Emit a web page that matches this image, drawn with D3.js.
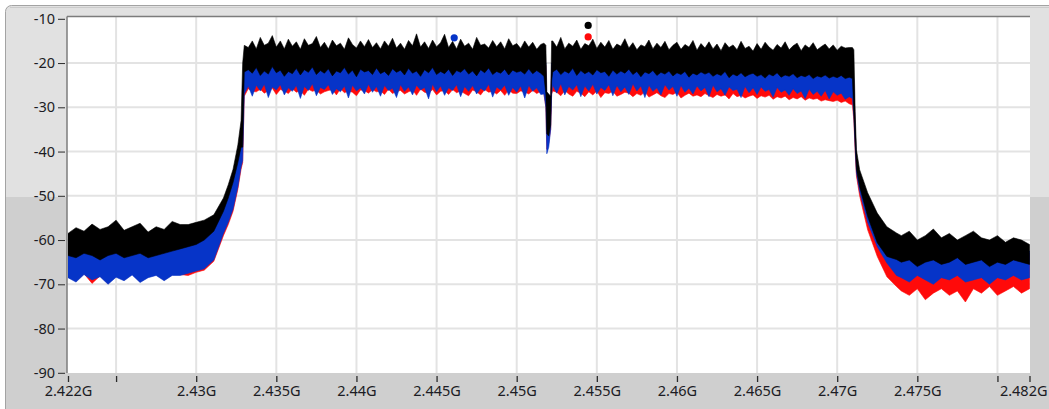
<!DOCTYPE html>
<html><head><meta charset="utf-8">
<script src="https://cdn.jsdelivr.net/npm/d3@7"></script>
<style>html,body{margin:0;padding:0;background:#fff;} svg{display:block;}</style>
</head><body><svg id="c" width="1049" height="409"></svg>
<script>
// ---------- DATA ----------
// sweep frequencies (MHz) at which the envelopes were read
const freqMHz = [
2422,2422.5,2423,2423.5,2424,2424.5,2425,2425.5,2426,2426.5,2427,2427.5,2428,2428.5,2429,
2429.5,2430,2430.5,2431.1,2431.7,2432,2432.3,2432.6,2432.8,2432.9,2433,
2433.25,2433.5,2433.75,2434,2434.25,2434.5,2434.75,2435,2435.25,2435.5,
2435.75,2436,2436.25,2436.5,2436.75,2437,2437.25,2437.5,2437.75,2438,
2438.25,2438.5,2438.75,2439,2439.25,2439.5,2439.75,2440,2440.25,2440.5,
2440.75,2441,2441.25,2441.5,2441.75,2442,2442.25,2442.5,2442.75,2443,
2443.25,2443.5,2443.75,2444,2444.25,2444.5,2444.75,2445,2445.25,2445.5,
2445.75,2446,2446.25,2446.5,2446.75,2447,2447.25,2447.5,2447.75,2448,
2448.25,2448.5,2448.75,2449,2449.25,2449.5,2449.75,2450,2450.25,2450.5,
2450.75,2451,2451.25,2451.5,
2451.7,2451.82,2451.88,2452,2452.12,2452.18,
2452.25,2452.5,2452.75,2453,2453.25,2453.5,2453.75,2454,2454.25,2454.5,
2454.75,2455,2455.25,2455.5,2455.75,2456,2456.25,2456.5,2456.75,2457,
2457.25,2457.5,2457.75,2458,2458.25,2458.5,2458.75,2459,2459.25,2459.5,
2459.75,2460,2460.25,2460.5,2460.75,2461,2461.25,2461.5,2461.75,2462,
2462.25,2462.5,2462.75,2463,2463.25,2463.5,2463.75,2464,2464.25,2464.5,
2464.75,2465,2465.25,2465.5,2465.75,2466,2466.25,2466.5,2466.75,2467,
2467.25,2467.5,2467.75,2468,2468.25,2468.5,2468.75,2469,2469.25,2469.5,
2469.75,2470,2470.25,2470.5,2470.75,
2470.95,2471.04,2471.12,2471.2,2471.4,2471.9,2472.5,2473.1,2473.7,
2474,2474.5,2475,2475.5,2476,2476.5,2477,2477.5,2478,2478.5,2479,2479.5,2480,2480.5,2481,2481.5,2482
];
// black trace: upper and lower envelope (dBm)
const blackMax = [
-58.5,-57.2,-58,-56.4,-57.6,-57,-55.5,-57.8,-57,-56.2,-58.2,-57,-57.6,-55.8,-56.5,
-56.5,-56,-55.5,-54.3,-50.5,-47.5,-44,-38.5,-33,-20,-16,
-16.5,-15,-16.8,-14.2,-16,-15.5,-13.8,-16.4,-15,-16.8,
-14.6,-16.2,-15.2,-16.9,-14.5,-16,-15.6,-14,-16.5,-15.3,
-16.8,-14.8,-16.1,-15.5,-16.9,-14.3,-15.8,-16.6,-15,-16.3,
-14.7,-16.5,-15.4,-16.8,-15,-16.2,-14.4,-16.6,-15.5,-16.9,
-14.9,-16.1,-13.4,-16.4,-15.2,-16.7,-14.8,-16.3,-15.4,-13.5,
-16.5,-15.1,-16.8,-14.6,-16.2,-15.5,-16.9,-14.2,-16,-15.7,
-16.6,-14.9,-16.3,-15.2,-16.8,-14.5,-16.1,-15.6,-16.7,-15,
-16.4,-15.3,-16.9,-15.8,
-15.5,-16,-26.5,-27,-27.5,-15,
-15,-16.4,-14.2,-16.8,-15.5,-16.2,-14.8,-16.9,-15.6,-16.1,
-14.6,-16.7,-15.3,-16.4,-14.9,-16.9,-15.7,-16.2,-14.5,-16.6,
-15.4,-17,-15.9,-16.3,-14.8,-16.8,-15.5,-16.5,-15.1,-17,
-16,-15.3,-16.9,-15.8,-16.4,-14.9,-17.1,-15.6,-16.6,-15.2,
-16.8,-15.7,-17.2,-15.4,-16.5,-15.9,-17,-15.1,-16.7,-16.2,
-17.3,-15.6,-16.9,-15.3,-16.4,-17.1,-15.8,-16.6,-15.2,-17,
-16.1,-15.5,-17.2,-15.9,-16.6,-15.4,-17,-16.3,-15.7,-16.8,
-15.9,-17.1,-16.2,-16.6,-16.5,
-16.5,-17,-31,-39.6,-44.1,-49.3,-53.9,-57,-58.4,
-59,-58,-60,-59,-57.5,-59.5,-58.5,-60,-59,-58,-59.5,-60,-59,-60.5,-59.5,-60,-61
];
const blackMin = [
-63.5,-64,-63,-63.5,-64.5,-63.5,-63,-64,-63.5,-63,-64,-63.5,-63,-62.5,-62,
-61.5,-61,-60,-58,-53.5,-50.5,-47,-42.5,-39,-39,-22,
-21.5,-22.3,-21,-22.8,-21.8,-22.5,-20.8,-22.2,-21.6,-23,
-21.9,-22.4,-21.2,-22.7,-21.5,-22.1,-20.9,-22.6,-21.7,-22.3,
-21.3,-22.9,-21.8,-22.2,-21,-22.5,-21.6,-23.1,-21.4,-22,
-21.7,-22.6,-21.1,-22.4,-21.9,-22.8,-21.3,-22.1,-21.6,-22.7,
-21.2,-22.3,-21.8,-23,-21.5,-22.2,-21,-22.6,-21.9,-22.4,
-21.4,-22.8,-21.7,-22.1,-21.3,-22.5,-21.8,-22.9,-21.5,-22.2,
-21.1,-22.6,-21.9,-22.3,-21.4,-22.7,-21.6,-22.1,-21.8,-22.5,
-21.3,-22.4,-21.7,-22.3,
-23,-27,-36,-36.5,-34,-24,
-22,-21.4,-22.6,-21.8,-22.3,-21.2,-22.8,-21.7,-22.4,-21.9,
-22.7,-21.5,-22.2,-21.9,-23,-21.6,-22.5,-21.8,-22.3,-21.4,
-22.6,-21.9,-23.1,-22,-22.4,-21.7,-22.8,-22.1,-22.5,-21.8,
-22.9,-22.2,-22.6,-21.9,-23.2,-22.3,-22.7,-22,-22.5,-22.1,
-23,-22.4,-22.8,-21.9,-23.3,-22.5,-22.9,-22.2,-23.1,-22.6,
-22.3,-23,-22.6,-23.4,-22.5,-22.9,-22.2,-23.2,-22.7,-23,
-22.4,-23.3,-22.8,-23.1,-22.6,-23.5,-22.9,-23.2,-22.7,-23.4,
-23,-23.3,-22.8,-23.5,-23.2,
-23.5,-31.5,-38,-44,-48,-54.7,-60.6,-63.7,-64.4,
-65,-64.5,-66,-65,-64.5,-65.5,-65,-64,-65.5,-65,-64.5,-66,-65,-65.5,-64.5,-65,-65.5
];
// blue trace: lower envelope (upper envelope lies under the black trace)
const blueMin = [
-68.5,-69.5,-67.8,-69,-68.3,-70,-68.4,-69.2,-67.9,-69.6,-68.5,-68,-69.2,-68,-68,
-67.5,-67,-66.5,-64.5,-58.5,-56,-53,-48,-43.5,-42,-27,
-25.2,-27.5,-25,-26.3,-24.8,-27.8,-25.4,-26.1,-24.9,-27.2,
-25.6,-26.4,-25.1,-28,-25.3,-26.2,-24.7,-27.4,-25.5,-26,
-24.9,-27.1,-25.8,-26.5,-25.2,-27.9,-25,-26.3,-25.6,-27,
-24.8,-26.6,-25.3,-27.5,-25.1,-26.2,-25.7,-27.8,-24.9,-26.4,
-25.4,-27.2,-25,-26.1,-25.5,-28.1,-24.8,-26.5,-25.2,-27.3,
-25.6,-26.2,-24.9,-27.6,-25.3,-26.4,-25.1,-27,-25.7,-26.3,
-24.8,-27.7,-25.4,-26.1,-25,-27.3,-25.5,-26.6,-25.2,-27.9,
-25.1,-26.4,-25.6,-27.1,
-27,-30,-40.5,-39,-35,-27,
-25,-26.8,-24.7,-27.2,-25.3,-26.1,-24.9,-27.6,-25.2,-26.3,
-24.8,-27,-25.5,-26.2,-24.9,-27.4,-25.1,-26.5,-25.4,-27.1,
-24.7,-26.3,-25.2,-27.8,-25,-26.4,-25.6,-27.2,-24.9,-26.1,
-25.3,-27.5,-25.1,-26.6,-25.7,-27,-25.2,-26.3,-25.5,-27.6,
-25,-26.5,-25.8,-27.3,-25.4,-26.2,-25.9,-27.8,-25.3,-26.7,
-25.6,-27.1,-25.4,-26.4,-26,-27.7,-25.5,-26.6,-26.1,-27.3,
-25.8,-26.9,-26.3,-28,-25.9,-27.1,-26.4,-27.5,-26.2,-28.1,
-26.5,-27.3,-26.8,-28.2,-27.6,
-28,-32,-39,-44.8,-49,-56,-61.5,-65.2,-68,
-68.5,-69.5,-68,-69,-70,-68.5,-69,-68,-69.5,-69,-68.5,-70,-68.5,-69,-68,-69,-68.5
];
// red trace: lower envelope
const redMin = [
-68.3,-69.3,-67.6,-69.8,-68.1,-69.8,-68.2,-69,-67.7,-69.4,-68.3,-67.8,-69,-67.8,-67.8,
-68,-67.3,-66.8,-64.8,-59,-56.5,-53.5,-48.5,-44,-42.5,-27.5,
-25.8,-26.4,-26.5,-25.9,-26.8,-26.2,-25.7,-27.1,-26,-26.3,
-26.9,-25.8,-26.6,-26.2,-27.3,-25.9,-26.4,-26.1,-27,-26.5,
-26.2,-26,-27.2,-25.8,-26.7,-26.3,-26.6,-27.4,-26.1,-26.2,
-26.8,-26,-26.5,-26.3,-27.1,-25.9,-26.9,-26.4,-26.2,-27,
-26.5,-26.1,-27.3,-25.9,-26.6,-26.8,-26,-27.2,-26.4,-26.2,
-27.1,-26,-26.7,-26.3,-26.9,-27.4,-26.1,-26.5,-27.2,-26,
-26.6,-26.4,-27,-26.2,-27.3,-26.1,-26.8,-26.9,-26.3,-26.5,
-27,-26.2,-26.9,-26.4,
-27,-30,-39.5,-38,-35,-27,
-26.3,-26.6,-27.4,-26.2,-27,-27.5,-26.4,-26.8,-27.6,-26.5,
-27.2,-26.3,-27.8,-26.7,-26.9,-26.4,-27.5,-27.1,-26.6,-26.8,
-27.6,-26.9,-27.3,-26.5,-27.7,-27.2,-26.7,-27.4,-27.8,-26.9,
-27.1,-26.6,-27.9,-27.3,-26.8,-27.5,-27.2,-27.6,-26.9,-27.4,
-27.8,-27.1,-27.5,-27.2,-28.1,-26.9,-27.6,-27.3,-27.9,-27.5,
-27.2,-28,-27.4,-27.7,-27.3,-28.2,-27.6,-27.9,-27.5,-28.3,
-27.8,-28.1,-27.6,-28.4,-27.9,-28.2,-28,-28.6,-28.3,-28.5,
-28.7,-28.4,-28.9,-28.6,-29.2,
-29.5,-33,-40,-45.5,-50,-57.7,-63.7,-68.3,-70.5,
-71.5,-72.5,-71,-73.5,-72,-71,-72.5,-71.5,-74,-71,-72,-70.5,-72.5,-71.5,-70.5,-72,-71
];
// upper envelopes of blue and red (hidden under black), read coarsely
const topFreqMHz = [2422,2429,2430.5,2431.7,2432.3,2432.6,2432.8,2432.9,2433,2451.6,2451.82,2451.88,2452.12,2452.18,2470.95,2471.04,2471.12,2471.2,2471.4,2471.9,2472.5,2473.1,2473.7,2482];
const blueMax = [-60.5,-59.5,-58,-52,-45.5,-40.5,-36,-30,-19.5,-19.5,-20,-31,-31,-20,-20,-24,-34,-41.5,-46,-52,-57.2,-60.3,-61.5,-62.5];
const redMax  = [-61,-60,-58.5,-52.5,-46,-41,-36.5,-31,-20,-20,-20.5,-31.5,-31.5,-20.5,-20.5,-24.5,-34.5,-42,-46.5,-52.5,-57.5,-60.5,-62,-63];
// markers
const markerFreqMHz = [2446.1, 2454.46, 2454.46];
const markerLevel = [-14.3, -11.5, -14.1];
const markerTrace = ["blue", "black", "red"];
// axes
const xTickMHz = [2422,2425,2430,2435,2440,2445,2450,2455,2460,2465,2470,2475,2480,2482];
const xTickLabels = ["2.422G","","2.43G","2.435G","2.44G","2.445G","2.45G","2.455G","2.46G","2.465G","2.47G","2.475G","","2.482G"];
const xGridMHz = [2425,2430,2435,2440,2445,2450,2455,2460,2465,2470,2475,2480];
const yTicks = [-10,-20,-30,-40,-50,-60,-70,-80,-90];
const yTickLabels = ["-10","-20","-30","-40","-50","-60","-70","-80","-90"];

// ---------- DRAWING ----------
const colors = {black:"#000000", blue:"#0634c8", red:"#ff0a0a"};
const svg = d3.select("#c");
const L = 67, R = 1030, T = 16.5, B = 373;
const x = d3.scaleLinear().domain([2422, 2482]).range([68, 1029.5]);
const y = d3.scaleLinear().domain([-90, -10]).range([372.8, 18.8]);

// outer frame
svg.append("rect").attr("x",5.5).attr("y",5.5).attr("width",1080).attr("height",440).attr("rx",6)
  .attr("fill","#e1e1e1").attr("stroke","#a3a3a3");
svg.append("rect").attr("x",6).attr("y",197).attr("width",1060).attr("height",230).attr("fill","#cfcfcf");
svg.append("line").attr("x1",10).attr("x2",1049).attr("y1",7.5).attr("y2",7.5).attr("stroke","#cbcbcb");

// plot area
svg.append("rect").attr("x",L).attr("y",T).attr("width",R-L).attr("height",B-T).attr("fill","#fff");
svg.append("defs").append("clipPath").attr("id","clip")
  .append("rect").attr("x",L+1).attr("y",T+1).attr("width",R-L-1).attr("height",B-T-1);

const grid = svg.append("g").attr("stroke","#e3e3e3").attr("stroke-width",2);
grid.selectAll("line.v").data(xGridMHz).join("line").attr("class","v")
  .attr("x1",d=>x(d)).attr("x2",d=>x(d)).attr("y1",T).attr("y2",B);
grid.selectAll("line.h").data(yTicks.slice(1,-1)).join("line").attr("class","h")
  .attr("x1",L).attr("x2",R).attr("y1",d=>y(d)).attr("y2",d=>y(d));

// traces as envelope polygons
const plot = svg.append("g").attr("clip-path","url(#clip)");
const line = d3.line().x(d=>x(d[0])).y(d=>y(d[1]));
function envelope(fLo, lo, fHi, hi){
  const pts = fLo.map((f,i)=>[f, lo[i]]);
  for (let i = fHi.length-1; i >= 0; i--) pts.push([fHi[i], hi[i]]);
  return line(pts) + "Z";
}
plot.append("path").attr("d", envelope(freqMHz, redMin, topFreqMHz, redMax))
  .attr("fill", colors.red).attr("stroke", colors.red).attr("stroke-width",0.6);
plot.append("path").attr("d", envelope(freqMHz, blueMin, topFreqMHz, blueMax))
  .attr("fill", colors.blue).attr("stroke", colors.blue).attr("stroke-width",0.6);
plot.append("path").attr("d", envelope(freqMHz, blackMin, freqMHz, blackMax))
  .attr("fill", colors.black).attr("stroke", colors.black).attr("stroke-width",0.6);

// markers
plot.selectAll("circle.m").data(markerFreqMHz.map((f,i)=>({f, v:markerLevel[i], c:markerTrace[i]})))
  .join("circle").attr("class","m").attr("cx",d=>x(d.f)).attr("cy",d=>y(d.v)).attr("r",3.6)
  .attr("fill",d=>colors[d.c]);

// plot border (sunken look: dark top and left)
svg.append("line").attr("x1",L).attr("x2",R).attr("y1",T).attr("y2",T).attr("stroke","#7c7c7c").attr("stroke-width",1.5);
svg.append("line").attr("x1",L).attr("x2",L).attr("y1",T).attr("y2",B).attr("stroke","#7c7c7c").attr("stroke-width",1.5);

// axes
const fontFam = "'Noto Sans', 'DejaVu Sans', sans-serif";
const yAxis = d3.axisLeft(y).tickValues(yTicks).tickFormat((d,i)=>yTickLabels[i]).tickSize(7).tickPadding(3);
const gy = svg.append("g").attr("transform","translate(65,0)").call(yAxis);
gy.select(".domain").remove();
gy.selectAll("line").attr("stroke","#2a2a2a");
gy.selectAll("text").attr("font-family",fontFam).attr("font-size",14.5).attr("fill","#1c1c24");

const xAxis = d3.axisBottom(x).tickValues(xTickMHz).tickFormat((d,i)=>xTickLabels[i]).tickSize(6).tickPadding(4);
const gx = svg.append("g").attr("transform","translate(0,376)").call(xAxis);
gx.select(".domain").remove();
gx.selectAll("line").attr("stroke","#2a2a2a").attr("stroke-width",1.3);
gx.selectAll("text").attr("font-family",fontFam).attr("font-size",14.5).attr("fill","#1c1c24");
// last label kept inside the window (the reference shows it flush with the right edge)
gx.selectAll(".tick").filter(d => d === 2482).select("text")
  .attr("text-anchor","end").attr("x", 1047 - x(2482));
</script>
</body></html>
